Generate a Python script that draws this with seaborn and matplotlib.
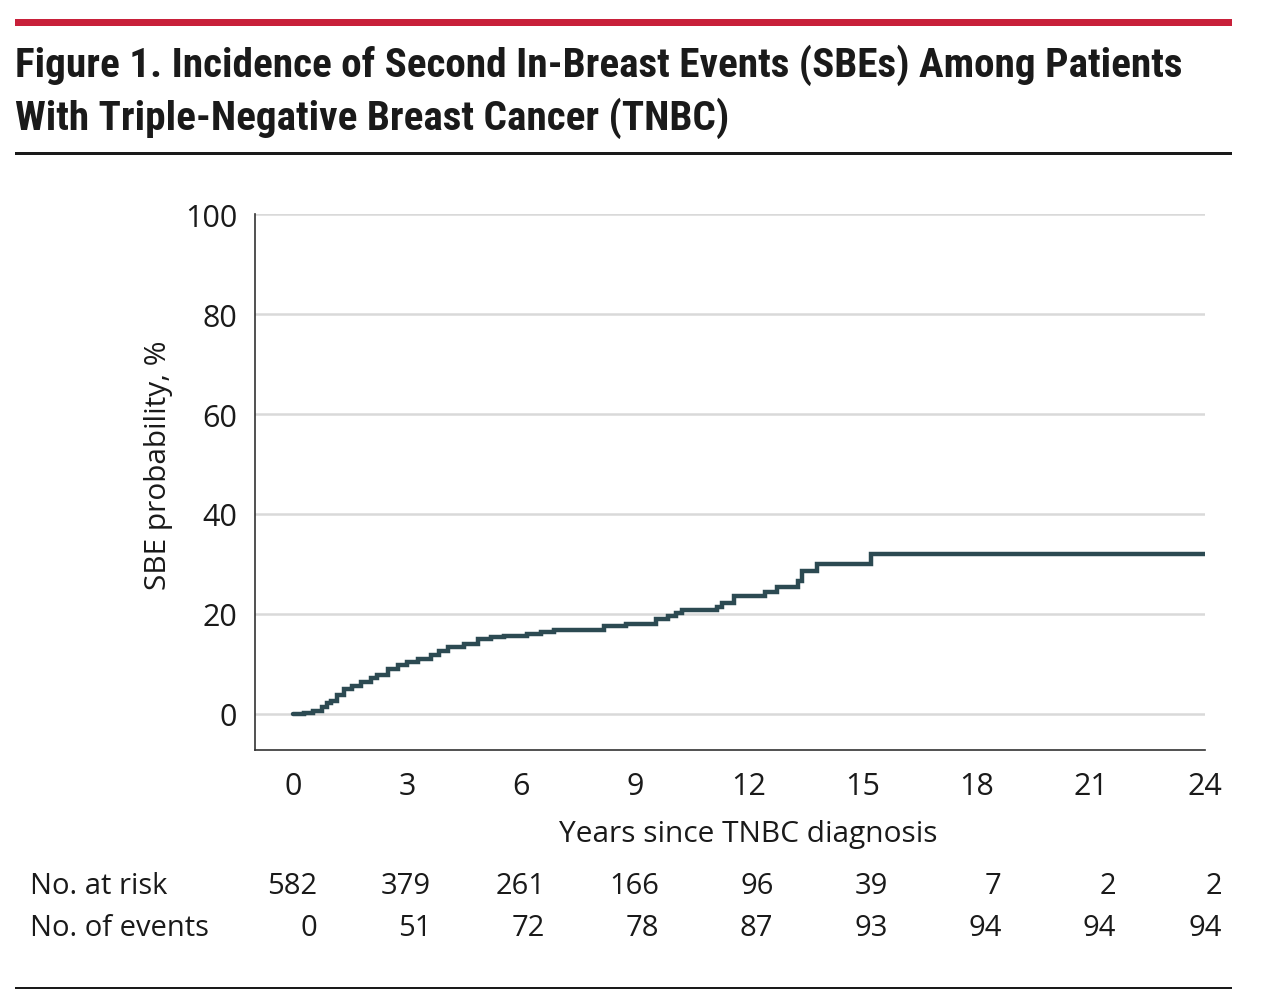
import matplotlib
matplotlib.use("Agg")
import matplotlib.pyplot as plt
from matplotlib.patches import Rectangle
import seaborn as sns
import pandas as pd

# step curve (years, SBE probability %)
years = [0, 0.3, 0.52, 0.75, 0.9, 1.0, 1.15, 1.34, 1.55, 1.79, 2.05, 2.2, 2.49,
         2.75, 3.0, 3.3, 3.63, 3.85, 4.07, 4.5, 4.86, 5.2, 5.55, 6.17, 6.52, 6.87,
         8.18, 8.75, 9.54, 9.88, 10.07, 10.24, 11.16, 11.3, 11.6, 12.43, 12.74,
         13.3, 13.4, 13.79, 15.2, 24.0]
sbe_pct = [0, 0.3, 0.7, 1.5, 2.2, 2.7, 3.8, 5.0, 5.6, 6.4, 7.3, 7.8, 9.0,
           9.8, 10.4, 11.0, 11.8, 12.6, 13.5, 14.1, 15.1, 15.4, 15.7, 16.1, 16.5, 16.9,
           17.6, 18.1, 19.0, 19.6, 20.3, 20.9, 21.5, 22.2, 23.7, 24.5, 25.5,
           26.7, 28.7, 30.1, 32.0, 32.0]

x_ticks = [0, 3, 6, 9, 12, 15, 18, 21, 24]
y_ticks = [0, 20, 40, 60, 80, 100]
at_risk = [582, 379, 261, 166, 96, 39, 7, 2, 2]
events = [0, 51, 72, 78, 87, 93, 94, 94, 94]

title_line1 = "Figure 1. Incidence of Second In-Breast Events (SBEs) Among Patients"
title_line2 = "With Triple-Negative Breast Cancer (TNBC)"

sns.set_theme(style="white")
plt.rcParams['font.family'] = ['Open Sans', 'DejaVu Sans']

W, H = 1264, 1004
fig = plt.figure(figsize=(W / 100, H / 100), dpi=100)


def fx(px):
    return px / W


def fy(py):
    return 1 - py / H


# header / footer rules
fig.patches.append(Rectangle((fx(15), fy(26.7)), fx(1232 - 15), 6.7 / H,
                             transform=fig.transFigure, color='#C8203A', lw=0))
fig.patches.append(Rectangle((fx(15), fy(155.7)), fx(1232 - 15), 3 / H,
                             transform=fig.transFigure, color='#1a1a1a', lw=0))
fig.patches.append(Rectangle((fx(15), fy(990.3)), fx(1232 - 15), 2.7 / H,
                             transform=fig.transFigure, color='#1a1a1a', lw=0))

title_kw = dict(ha='left', va='baseline', fontsize=29.6, fontweight='bold',
                fontstretch='condensed', family=['Roboto Condensed', 'Roboto'],
                color='#1a1a1a')
fig.text(fx(15), fy(77), title_line1, **title_kw)
fig.text(fx(15), fy(130), title_line2, **title_kw)

ax = fig.add_axes([fx(255), fy(751), fx(1205 - 255), (751 - 215) / H])

df = pd.DataFrame({'years': years, 'sbe': sbe_pct})
sns.lineplot(data=df, x='years', y='sbe', ax=ax, drawstyle='steps-post',
             color='#2C4A52', lw=3.2, solid_joinstyle='miter')

ax.set_xlim(-1, 24)
ax.set_ylim(-7.2, 100)
ax.set_xticks(x_ticks)
ax.set_yticks(y_ticks)
for v in y_ticks:
    ax.axhline(v, color='#D9D9D9', lw=1.8, zorder=0)

for s in ['top', 'right']:
    ax.spines[s].set_visible(False)
for s in ['left', 'bottom']:
    ax.spines[s].set_color('#333333')
    ax.spines[s].set_linewidth(1.2)

ax.tick_params(axis='both', which='major', direction='out', length=7, width=1.2,
               color='#333333', labelsize=22, labelcolor='#1a1a1a')
ax.tick_params(axis='x', pad=8)
ax.tick_params(axis='y', pad=6)
ax.set_xlabel('Years since TNBC diagnosis', fontsize=21.5, color='#1a1a1a')
ax.set_ylabel('SBE probability, %', fontsize=21.5, color='#1a1a1a')
ax.xaxis.set_label_coords(0.519, -0.128)
ax.yaxis.set_label_coords(-0.086, 0.534)

# risk table below the axis
tbl_kw = dict(va='center', fontsize=21, color='#1a1a1a')
fig.text(fx(30), fy(887), 'No. at risk', ha='left', **tbl_kw)
fig.text(fx(30), fy(929), 'No. of events', ha='left', **tbl_kw)
for t, r, e in zip(x_ticks, at_risk, events):
    xp = 292 + 38.04 * t + (25 if t < 24 else 17)
    fig.text(fx(xp), fy(887), str(r), ha='right', **tbl_kw)
    fig.text(fx(xp), fy(929), str(e), ha='right', **tbl_kw)

fig.savefig('out.png', dpi=100)
